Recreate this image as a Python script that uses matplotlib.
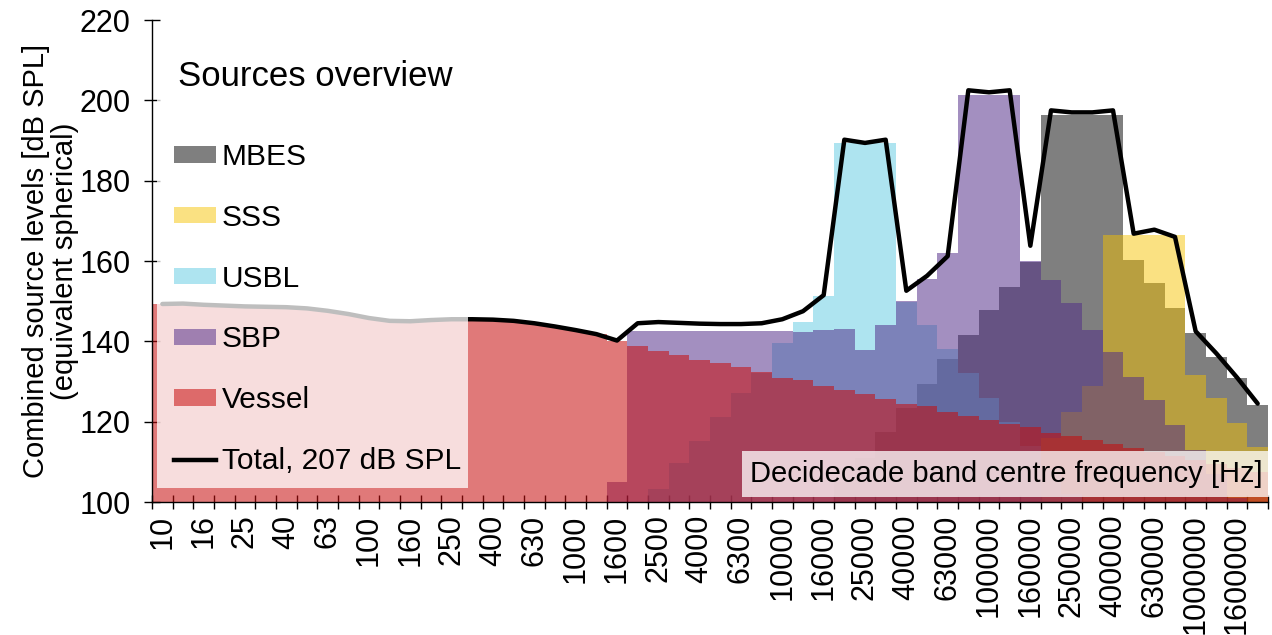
import numpy as np
import matplotlib.pyplot as plt
from matplotlib.patches import Patch, Rectangle
from matplotlib.lines import Line2D

plt.rcParams['font.family'] = ['Liberation Sans', 'DejaVu Sans']

# decidecade band centre frequencies (Hz)
bands = ['10', '12.5', '16', '20', '25', '31.5', '40', '50', '63', '80',
         '100', '125', '160', '200', '250', '315', '400', '500', '630', '800',
         '1000', '1250', '1600', '2000', '2500', '3150', '4000', '5000', '6300', '8000',
         '10000', '12500', '16000', '20000', '25000', '31500', '40000', '50000', '63000', '80000',
         '100000', '125000', '160000', '200000', '250000', '315000', '400000', '500000', '630000', '800000',
         '1000000', '1250000', '1600000', '2000000']

# source levels per band, dB SPL (nan = no contribution)
vessel = [149.3, 149.4, 149.1, 148.9, 148.7, 148.6, 148.5, 148.2, 147.6, 146.8,
          145.8, 145.1, 145.0, 145.3, 145.5, 145.5, 145.4, 145.1, 144.5, 143.7,
          142.8, 141.8, 140.2,
          138.9, 137.7, 136.6, 135.4, 134.5, 133.5, 132.3, 130.9, 130.4, 129.0,
          127.9, 126.9, 125.6, 124.4, 123.9, 122.5, 121.5, 120.4, 119.4, 118.6,
          117.1, 116.4, 115.4, 114.4, 113.4, 112.4, 111.5, 110.5, 109.5, 108.5, 107.5]
sbp = [np.nan] * 22 + [105.0, 142.6, 142.6, 142.6, 142.6, 142.6, 142.6, 142.6, 142.6,
                       142.4, 142.8, 143.1, 137.8, 144.1, 150.0, 155.5, 162.0,
                       201.3, 201.3, 201.3, 160.0, 155.3, 149.5, 142.8, 137.4,
                       131.2, 125.4, 119.2, 113.0, 107.0, 101.0, np.nan]
usbl = [np.nan] * 24 + [103.2, 109.7, 115.3, 121.2, 127.1, 132.2, 139.6, 144.9, 151.3,
                        189.3, 189.3, 189.3, 149.9, 144.1, 138.0, 132.0, 125.9,
                        120.0, 114.0, 108.0, 102.0] + [np.nan] * 9
mbes = [np.nan] * 33 + [105.0, 111.0, 117.5, 123.5, 129.5, 135.6, 141.6, 147.8, 153.6,
                        159.8, 196.3, 196.3, 196.3, 196.3, 160.2, 154.4, 148.2,
                        142.0, 136.2, 130.8, 124.1]
sss = [np.nan] * 43 + [116.0, 122.5, 129.0, 166.5, 166.5, 166.5, 166.5,
                       131.6, 125.8, 119.6, 113.8]
total = [149.3, 149.4, 149.1, 148.9, 148.7, 148.6, 148.5, 148.2, 147.6, 146.8,
         145.8, 145.1, 145.0, 145.3, 145.5, 145.5, 145.4, 145.1, 144.5, 143.7,
         142.8, 141.8, 140.2, 144.5, 144.8, 144.6, 144.4, 144.3, 144.3, 144.5,
         145.5, 147.5, 151.5, 190.2, 189.4, 190.2, 152.6, 156.3, 161.2, 202.5,
         202.0, 202.5, 163.8, 197.5, 197.0, 197.0, 197.5, 166.8, 167.8, 166.0,
         142.5, 137.0, 131.0, 124.5]

# drawn bottom to top
sources = [('MBES', mbes, '#000000', 0.5),
           ('SSS', sss, '#F5C200', 0.49),
           ('USBL', usbl, '#78D2E6', 0.6),
           ('SBP', sbp, '#512C88', 0.53),
           ('Vessel', vessel, '#C80C0C', 0.55)]

fig = plt.figure(figsize=(12.72, 6.35), dpi=100)
ax = fig.add_axes([152 / 1272, 133 / 635, 1116 / 1272, 482 / 635])

edges = np.arange(len(bands) + 1)
for name, vals, col, a in sources:
    ax.stairs(np.array(vals), edges, baseline=100, fill=True,
              color=col, alpha=a, lw=0, zorder=2)

centres = np.arange(len(bands)) + 0.5
ax.plot(centres, total, color='black', lw=3.2, solid_joinstyle='round',
        solid_capstyle='round', zorder=4)

ax.set_xlim(0, len(bands))
ax.set_ylim(100, 220)
ax.set_yticks(np.arange(100, 221, 20))
ax.set_xticks(centres[::2])
ax.set_xticklabels(bands[::2], rotation=90)
ax.set_xticks(edges, minor=True)
ax.tick_params(axis='x', which='major', length=0, labelsize=22, pad=9)
ax.tick_params(axis='x', which='minor', direction='inout', length=10, width=1)
ax.tick_params(axis='y', direction='inout', length=11, width=1, labelsize=22, pad=10)
for s in ['top', 'right']:
    ax.spines[s].set_visible(False)
for s in ['left', 'bottom']:
    ax.spines[s].set_linewidth(1)
    ax.spines[s].set_zorder(6)

ax.set_ylabel('Combined source levels [dB SPL]\n(equivalent spherical)',
              fontsize=21, linespacing=1.05, labelpad=0)

# translucent backgrounds for the legend and axis title
ax.add_patch(Rectangle((0.0045, 0.029), 0.279, 0.93, transform=ax.transAxes,
                       facecolor='white', alpha=0.75, lw=0, zorder=4.5))
ax.text(0.9955, 0.058, 'Decidecade band centre frequency [Hz]', transform=ax.transAxes,
        ha='right', va='center', fontsize=21, zorder=5,
        bbox=dict(boxstyle='square,pad=0.3', fc='white', alpha=0.75, ec='none'))

ax.text(0.0233, 0.882, 'Sources overview', transform=ax.transAxes,
        ha='left', va='center', fontsize=25, zorder=6)
handles = [Patch(facecolor=col, alpha=a, lw=0) for name, vals, col, a in sources]
handles.append(Line2D([], [], color='black', lw=3.2))
labels = [s[0] for s in sources] + ['Total, 207 dB SPL']
leg = ax.legend(handles, labels, loc='upper left',
                bbox_to_anchor=(0.02, 0.745), frameon=False, fontsize=21.5,
                handlelength=1.38, handleheight=0.47,
                handletextpad=0.2, labelspacing=1.1, borderpad=0,
                borderaxespad=0)
leg.set_zorder(6)

fig.savefig('out.png', dpi=100)
